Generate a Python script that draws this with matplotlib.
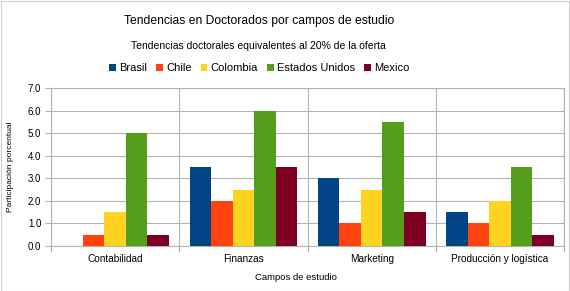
import numpy as np
import matplotlib
matplotlib.use("Agg")
import matplotlib.pyplot as plt
from matplotlib.patches import Rectangle

plt.rcParams['font.family'] = ['Liberation Sans', 'DejaVu Sans']

campos = ["Contabilidad", "Finanzas", "Marketing", "Producción y logística"]
paises = ["Brasil", "Chile", "Colombia", "Estados Unidos", "Mexico"]
brasil = [0.0, 3.5, 3.0, 1.5]
chile = [0.5, 2.0, 1.0, 1.0]
colombia = [1.5, 2.5, 2.5, 2.0]
estados_unidos = [5.0, 6.0, 5.5, 3.5]
mexico = [0.5, 3.5, 1.5, 0.5]
colores = ["#004586", "#ff420e", "#ffd320", "#579d1c", "#7e0021"]

series = [brasil, chile, colombia, estados_unidos, mexico]

fig = plt.figure(figsize=(5.7, 2.91), dpi=100)
ax = fig.add_axes([0.0895, 0.1546, 0.9, 0.543])

x = np.arange(len(campos))
ancho = 0.84 / len(series)
for i, (nombre, valores, color) in enumerate(zip(paises, series, colores)):
    ax.bar(x - 0.42 + ancho * (i + 0.5), valores, ancho, color=color, label=nombre, zorder=3)

ax.set_xlim(-0.5, len(campos) - 0.5)
ax.set_ylim(0, 7)
ax.set_yticks(np.arange(0, 7.1, 1.0))
ax.set_yticklabels([f"{v:.1f}" for v in np.arange(0, 7.1, 1.0)], fontsize=7)
ax.set_xticks(x)
ax.set_xticklabels(campos, fontsize=7.2)
ax.set_xticks(np.arange(-0.5, len(campos)), minor=True)
ax.tick_params(axis='x', which='major', length=0, pad=6)
ax.tick_params(axis='x', which='minor', length=4, color='#b3b3b3', width=0.8)
ax.tick_params(axis='y', length=4, color='#b3b3b3', width=0.8, pad=3)
ax.grid(axis='y', color='#b3b3b3', linewidth=0.8, zorder=0)
ax.grid(axis='x', which='minor', color='#b3b3b3', linewidth=0.8, zorder=0)
for s in ax.spines.values():
    s.set_color('#b3b3b3')
    s.set_linewidth(0.8)

fig.text(0.519, 0.048, "Campos de estudio", ha='center', va='center', fontsize=6.8)
ax.set_ylabel("Participación porcentual", fontsize=6, labelpad=10)

fig.text(0.454, 0.928, "Tendencias en Doctorados por campos de estudio", ha='center', va='center', fontsize=8.7)
fig.text(0.453, 0.842, "Tendencias doctorales equivalentes al 20% de la oferta", ha='center', va='center', fontsize=7.5)
fig.legend(loc='center', bbox_to_anchor=(0.455, 0.766), ncol=5, frameon=False, fontsize=8,
           handlelength=0.6, handleheight=0.6, handletextpad=0.3, columnspacing=0.8)

fig.patches.append(Rectangle((0.001, 0.001), 0.997, 0.996, transform=fig.transFigure,
                             fill=False, edgecolor='#d0d0d0', linewidth=0.8))

fig.savefig("out.png", dpi=100)
